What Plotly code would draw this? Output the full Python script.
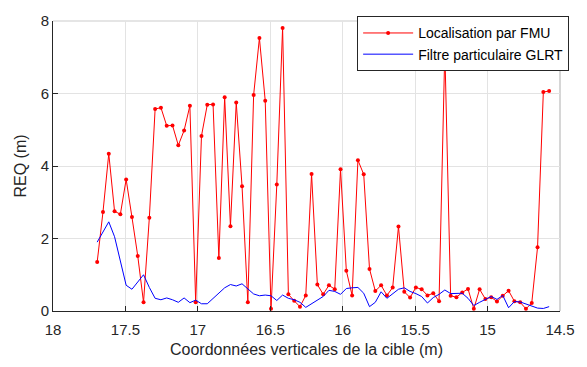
import plotly.graph_objects as go

# Vertical coordinate of the target (m)
coord_y = [
    17.695, 17.655, 17.615, 17.575, 17.535, 17.495, 17.455, 17.415, 17.375, 17.335,
    17.295, 17.255, 17.215, 17.175, 17.135, 17.095, 17.055, 17.015, 16.975, 16.935,
    16.895, 16.855, 16.815, 16.775, 16.735, 16.695, 16.655, 16.615, 16.575, 16.535,
    16.495, 16.455, 16.415, 16.375, 16.335, 16.295, 16.255, 16.215, 16.175, 16.135,
    16.095, 16.055, 16.015, 15.975, 15.935, 15.895, 15.855, 15.815, 15.775, 15.735,
    15.695, 15.655, 15.615, 15.575, 15.535, 15.495, 15.455, 15.415, 15.375, 15.335,
    15.295, 15.255, 15.215, 15.175, 15.135, 15.095, 15.055, 15.015, 14.975, 14.935,
    14.895, 14.855, 14.815, 14.775, 14.735, 14.695, 14.655, 14.615, 14.575,
]

# REQ of the FMU localisation (m)
req_fmu = [
    1.35, 2.73, 4.34, 2.75, 2.67, 3.63, 2.59, 1.52, 0.24, 2.57,
    5.57, 5.61, 5.11, 5.12, 4.57, 4.98, 5.66, 0.24, 4.83, 5.69,
    5.70, 1.46, 5.90, 2.34, 5.75, 3.44, 0.24, 5.96, 7.53, 5.80,
    0.06, 3.49, 7.81, 0.46, 0.28, 0.12, 0.43, 3.78, 0.73, 0.46,
    0.71, 0.60, 3.91, 1.11, 0.43, 4.16, 3.77, 1.16, 0.55, 0.71,
    0.43, 0.65, 2.33, 0.53, 0.37, 0.65, 0.60, 0.43, 0.49, 0.27,
    7.20, 0.42, 0.38, 0.51, 0.61, 0.06, 0.60, 0.33, 0.38, 0.26,
    0.42, 0.56, 0.27, 0.24, 0.06, 0.22, 1.76, 6.04, 6.07,
]

# REQ of the GLRT particle filter (m)
req_glrt = [
    1.90, 2.18, 2.46, 2.05, 1.40, 0.71, 0.60, 0.80, 1.00, 0.65,
    0.35, 0.31, 0.36, 0.31, 0.24, 0.36, 0.23, 0.30, 0.20, 0.20,
    0.35, 0.51, 0.64, 0.73, 0.69, 0.75, 0.62, 0.47, 0.42, 0.44,
    0.42, 0.29, 0.44, 0.35, 0.31, 0.24, 0.10, 0.20, 0.30, 0.40,
    0.57, 0.54, 0.46, 0.62, 0.64, 0.65, 0.49, 0.12, 0.24, 0.53,
    0.35, 0.48, 0.60, 0.64, 0.54, 0.48, 0.40, 0.22, 0.37, 0.46,
    0.58, 0.48, 0.48, 0.49, 0.35, 0.15, 0.24, 0.33, 0.40, 0.32,
    0.43, 0.09, 0.26, 0.25, 0.20, 0.13, 0.08, 0.07, 0.12,
]

x_ticks = [18, 17.5, 17, 16.5, 16, 15.5, 15, 14.5]
x_tick_text = ["18", "17.5", "17", "16.5", "16", "15.5", "15", "14.5"]
y_ticks = [0, 2, 4, 6, 8]

FONT = "Liberation Sans, Arial, Helvetica, sans-serif"
AX = "#262626"
GRID = "#e3e3e3"

fig = go.Figure()
fig.add_trace(go.Scatter(
    x=coord_y, y=req_fmu, mode="lines+markers",
    name="Localisation par FMU",
    line=dict(color="#ff0000", width=1),
    marker=dict(color="#ff0000", size=4),
))
fig.add_trace(go.Scatter(
    x=coord_y, y=req_glrt, mode="lines",
    name="Filtre particulaire GLRT",
    line=dict(color="#0000ff", width=1),
))

# light frame along the top and right edges of the plot area
fig.add_shape(type="line", xref="paper", yref="paper", x0=0, x1=1, y0=1, y1=1,
              line=dict(color="#dcdcdc", width=1.5), layer="below")
fig.add_shape(type="line", xref="paper", yref="paper", x0=1, x1=1, y0=0, y1=1,
              line=dict(color="#c8c8c8", width=1.5), layer="below")

fig.update_layout(
    width=587, height=367,
    margin=dict(l=53, r=16, t=15, b=55),
    paper_bgcolor="white", plot_bgcolor="white",
    font=dict(family=FONT, size=14, color=AX),
    showlegend=True,
    legend=dict(
        x=1.018, y=1.016, xanchor="right", yanchor="top",
        bgcolor="white", bordercolor=AX, borderwidth=1,
        font=dict(family=FONT, size=14, color="#000000"),
        tracegroupgap=0, itemwidth=50,
    ),
    xaxis=dict(
        range=[18, 14.5], tickmode="array", tickvals=x_ticks, ticktext=x_tick_text,
        showgrid=True, gridcolor=GRID, gridwidth=1,
        showline=True, linecolor=AX, linewidth=1,
        ticks="inside", ticklen=5, tickcolor=AX,
        ticklabelstandoff=5,
        zeroline=False,
        tickfont=dict(size=15, color=AX),
        title=dict(text="Coordonnées verticales de la cible (m)",
                   font=dict(size=16, color=AX), standoff=6),
    ),
    yaxis=dict(
        range=[0, 8], tickmode="array", tickvals=y_ticks,
        showgrid=True, gridcolor=GRID, gridwidth=1,
        showline=True, linecolor=AX, linewidth=1,
        ticks="inside", ticklen=5, tickcolor=AX,
        zeroline=False,
        tickfont=dict(size=15, color=AX),
        title=dict(text="REQ (m)", font=dict(size=16, color=AX), standoff=10),
    ),
)

fig.write_html("out.html")
